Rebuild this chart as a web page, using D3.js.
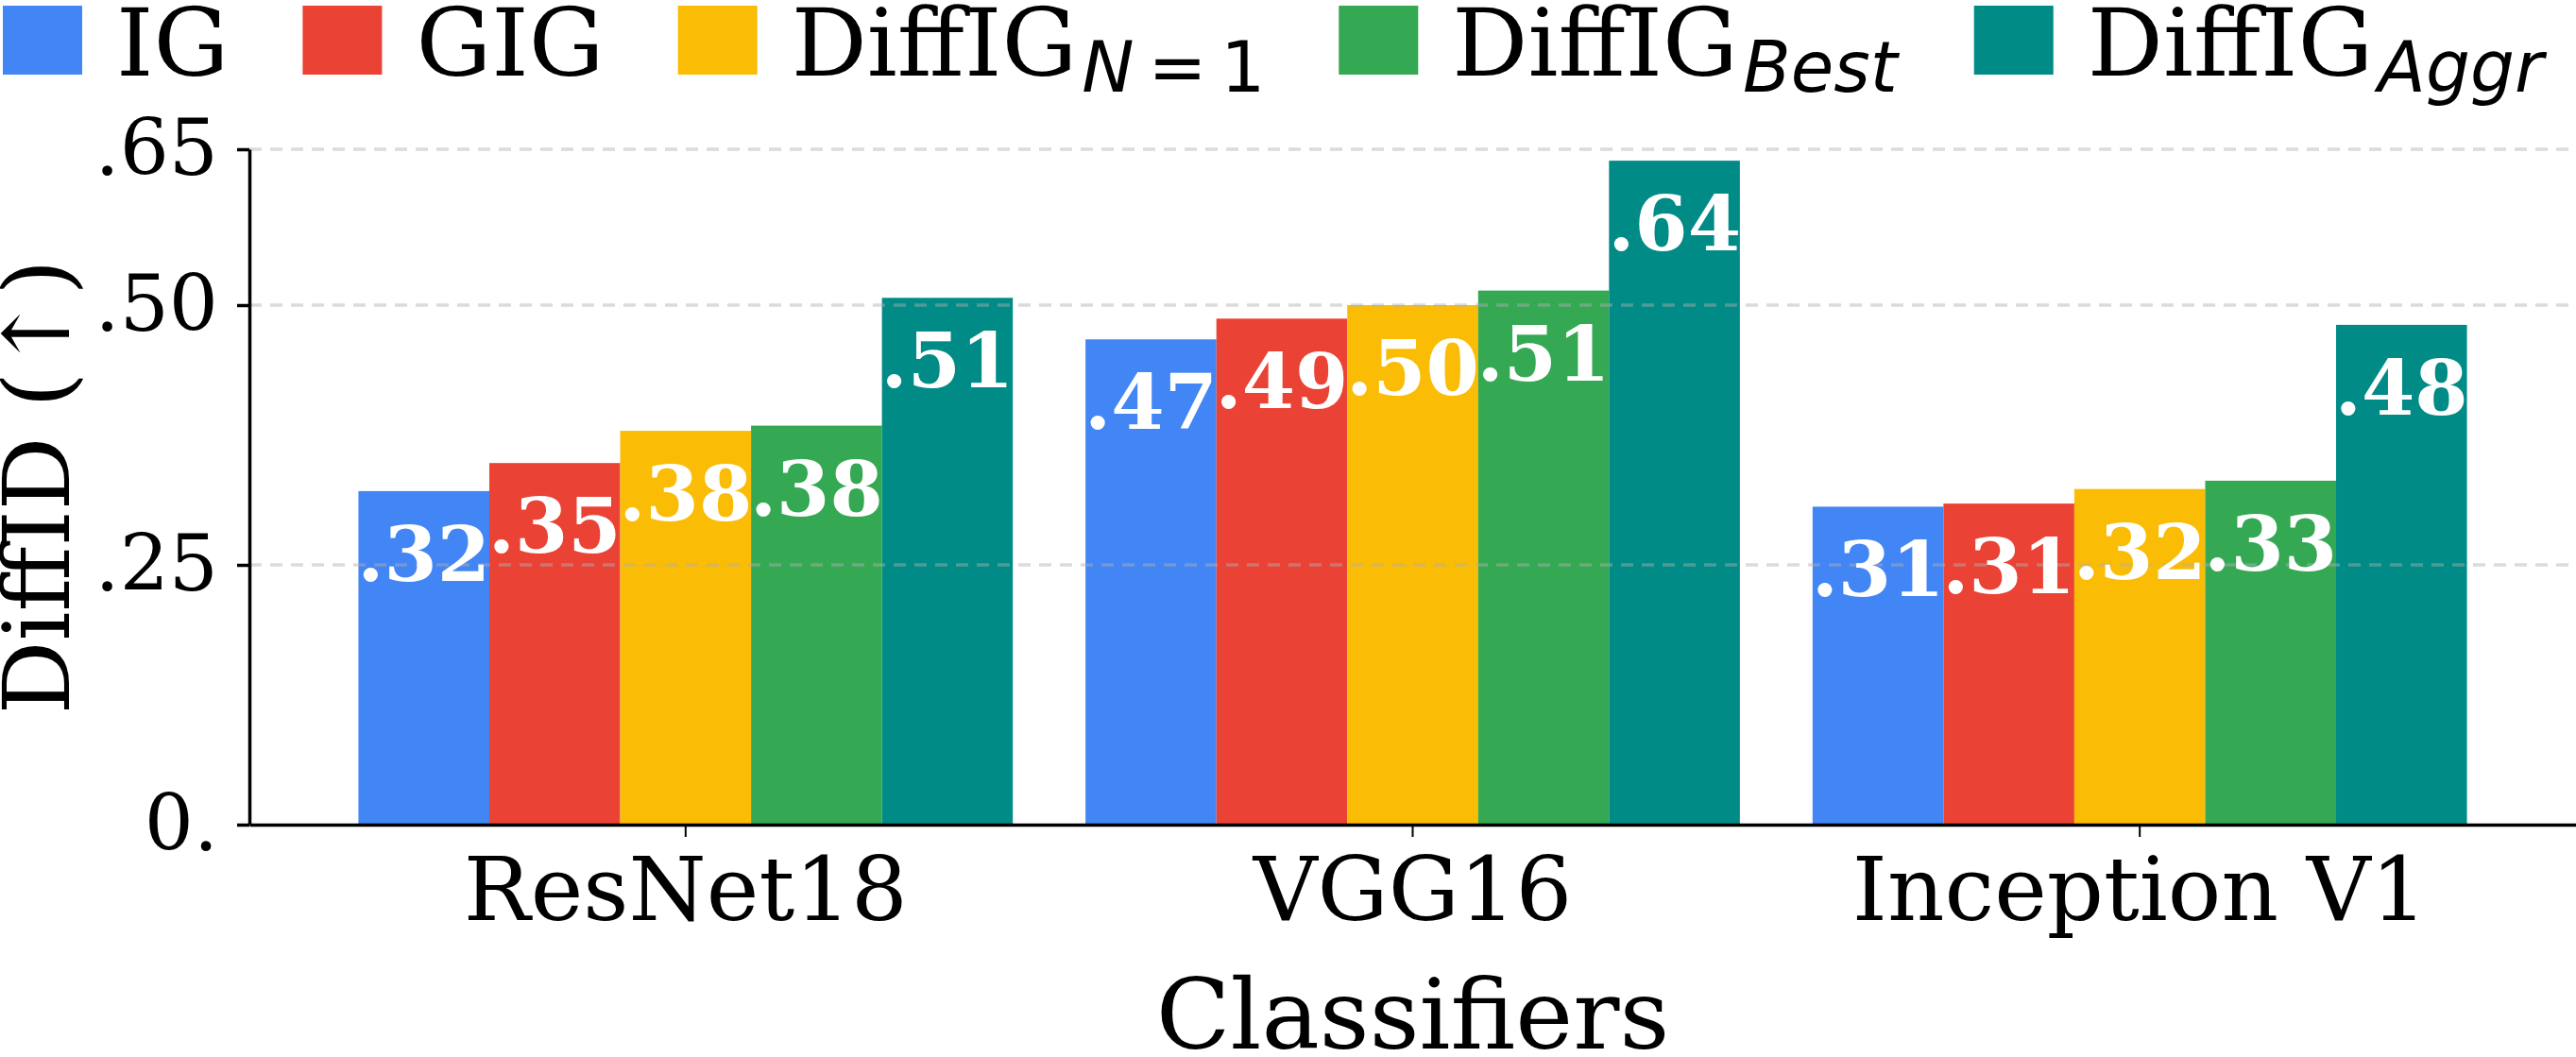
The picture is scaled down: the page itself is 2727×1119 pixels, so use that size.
<!DOCTYPE html>
<html>
<head>
<meta charset="utf-8">
<script src="https://cdn.jsdelivr.net/npm/d3@7"></script>
<style>
  body { margin: 0; background: #fff; }
  text { font-family: "DejaVu Serif", serif; }
</style>
</head>
<body>
<div id="chart"></div>
<script>
// data
const categories = ["ResNet18", "VGG16", "Inception V1"];
const methods = ["IG", "GIG", "DiffIG_N=1", "DiffIG_Best", "DiffIG_Aggr"];
const colors = ["#4285f4", "#ea4335", "#fbbc05", "#34a853", "#018b86"];

// one array per method, in category order
const igValues = [0.321, 0.467, 0.306];
const gigValues = [0.348, 0.487, 0.309];
const diffN1Values = [0.379, 0.500, 0.323];
const diffBestValues = [0.384, 0.514, 0.331];
const diffAggrValues = [0.507, 0.639, 0.481];

// the printed labels on the bars
const igLabels = [".32", ".47", ".31"];
const gigLabels = [".35", ".49", ".31"];
const diffN1Labels = [".38", ".50", ".32"];
const diffBestLabels = [".38", ".51", ".33"];
const diffAggrLabels = [".51", ".64", ".48"];

const yTicks = [0, 0.25, 0.5, 0.65];
const yTickLabels = ["0.", ".25", ".50", ".65"];

// legend text: main part + subscript
const legendMain = ["IG", "GIG", "DiffIG", "DiffIG", "DiffIG"];
const legendSub = ["", "", "N\u2009=\u20091", "Best", "Aggr"];

const seriesValues = [igValues, gigValues, diffN1Values, diffBestValues, diffAggrValues];
const seriesLabels = [igLabels, gigLabels, diffN1Labels, diffBestLabels, diffAggrLabels];

const WIDTH = 2727, HEIGHT = 1119;
const plot = {left: 264, right: 2727, top: 158, bottom: 873};

let svg = d3.select("#chart")
    .append("svg")
    .attr("width", WIDTH)
    .attr("height", HEIGHT);

svg.append("rect").attr("width", WIDTH).attr("height", HEIGHT).attr("fill", "#fff");

// group scale (xlim -0.6 .. 2.6)
let x0 = d3.scaleBand()
    .domain(categories)
    .range([plot.left, plot.right])
    .paddingInner(0)
    .paddingOuter(0.1);

// bars inside a group take 90% of the band
let x1 = d3.scaleBand()
    .domain(methods)
    .range([0.05 * x0.bandwidth(), 0.95 * x0.bandwidth()])
    .padding(0);

let y = d3.scaleLinear()
    .domain([0, 0.65])
    .range([plot.bottom, plot.top]);

// flatten into rows for the bars
let rows = [];
categories.forEach(function(c, ci) {
    methods.forEach(function(m, mi) {
        rows.push({cat: c, method: m, value: seriesValues[mi][ci], label: seriesLabels[mi][ci], color: colors[mi]});
    });
});

svg.append("g").selectAll("rect")
    .data(rows)
    .enter()
    .append("rect")
    .attr("x", d => x0(d.cat) + x1(d.method))
    .attr("y", d => y(d.value))
    .attr("width", x1.bandwidth())
    .attr("height", d => y(0) - y(d.value))
    .attr("fill", d => d.color);

// dashed grid, drawn over the bars
svg.append("g").selectAll("line")
    .data(yTicks.filter(t => t > 0))
    .enter()
    .append("line")
    .attr("x1", plot.left)
    .attr("x2", plot.right)
    .attr("y1", d => y(d))
    .attr("y2", d => y(d))
    .attr("stroke", "#b0b0b0")
    .attr("stroke-opacity", 0.45)
    .attr("stroke-width", 3.3)
    .attr("stroke-dasharray", "13,9");

// value labels inside the bar tops
svg.append("g").selectAll("text")
    .data(rows)
    .enter()
    .append("text")
    .attr("x", d => x0(d.cat) + x1(d.method) + x1.bandwidth() / 2)
    .attr("y", d => y(d.value) + 95)
    .attr("text-anchor", "middle")
    .attr("fill", "#fff")
    .style("font-weight", "bold")
    .style("font-size", "81px")
    .text(d => d.label);

// y axis
let yAxis = svg.append("g")
    .attr("transform", `translate(${plot.left},0)`)
    .call(d3.axisLeft(y)
        .tickValues(yTicks)
        .tickFormat((d, i) => yTickLabels[i])
        .tickSize(13)
        .tickSizeOuter(0)
        .tickPadding(20));
yAxis.select(".domain").attr("stroke", "#000").attr("stroke-width", 3.5);
yAxis.selectAll(".tick line").attr("stroke", "#000").attr("stroke-width", 3.5);
yAxis.selectAll(".tick text")
    .attr("fill", "#000")
    .style("font-family", "DejaVu Serif")
    .style("font-size", "82px");

// x axis
let xAxis = svg.append("g")
    .attr("transform", `translate(0,${plot.bottom})`)
    .call(d3.axisBottom(x0)
        .tickSize(13)
        .tickSizeOuter(0)
        .tickPadding(21));
xAxis.select(".domain").attr("stroke", "#000").attr("stroke-width", 3.5);
xAxis.selectAll(".tick line").attr("stroke", "#000").attr("stroke-width", 2);
xAxis.selectAll(".tick text")
    .attr("fill", "#000")
    .style("font-family", "DejaVu Serif")
    .style("font-size", "94px");

// axis titles
svg.append("text")
    .attr("x", (plot.left + plot.right) / 2)
    .attr("y", 1110)
    .attr("text-anchor", "middle")
    .style("font-size", "103px")
    .text("Classifiers");

svg.append("text")
    .attr("transform", `translate(73,${(plot.top + plot.bottom) / 2}) rotate(-90)`)
    .attr("text-anchor", "middle")
    .style("font-size", "97px")
    .text("DiffID (\u2191)");

// legend row along the top
let legend = svg.append("g");
let lx = 3;
methods.forEach(function(m, i) {
    legend.append("rect")
        .attr("x", lx)
        .attr("y", 6)
        .attr("width", 84)
        .attr("height", 73)
        .attr("fill", colors[i]);
    let t = legend.append("text")
        .attr("x", lx + 120)
        .attr("y", 80)
        .style("font-size", "100px");
    t.append("tspan").text(legendMain[i]);
    if (legendSub[i]) {
        // letters italic, digits and '=' upright, like mathtext
        let parts = legendSub[i].match(/[A-Za-z]+|[^A-Za-z]+/g);
        parts.forEach(function(p, k) {
            let ts = t.append("tspan")
                .style("font-family", "DejaVu Sans")
                .style("font-size", "74px")
                .style("font-style", /[A-Za-z]/.test(p) ? "italic" : "normal")
                .text(p);
            if (k == 0) ts.attr("dy", 17).attr("dx", 5);
        });
    }
    let bb = t.node().getBBox();
    lx = bb.x + bb.width + 78;
});
</script>
</body>
</html>
